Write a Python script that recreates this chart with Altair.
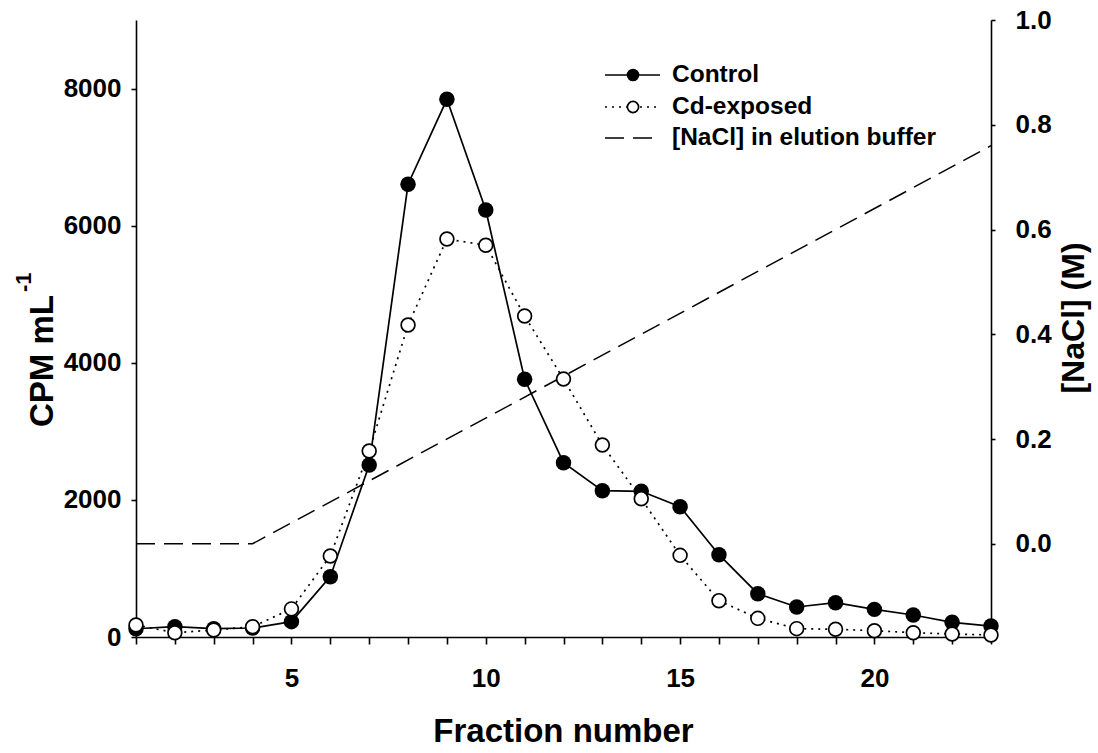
import altair as alt
import pandas as pd

# ---------------- data ----------------
fractions = list(range(1, 24))
control = [120, 150, 121, 131, 224, 880, 2509, 6604, 7843, 6229, 3759, 2543,
           2134, 2125, 1901, 1201, 632, 438, 501, 403, 321, 214, 160]
cd_exposed = [175, 63, 102, 150, 410, 1182, 2713, 4551, 5806, 5714, 4682, 3763,
              2801, 2018, 1191, 530, 272, 122, 112, 92, 63, 44, 29]
nacl_fraction = [1, 4, 23]
nacl_molar = [0.0, 0.0, 0.76]

left_ticks = [0, 2000, 4000, 6000, 8000]
right_ticks = [0.0, 0.2, 0.4, 0.6, 0.8, 1.0]
legend_labels = ["Control", "Cd-exposed", "[NaCl] in elution buffer"]

FONT = "Liberation Sans"
W, H = 855, 617
PAD = {"left": 136, "top": 20, "right": 1098 - 136 - W, "bottom": 753 - 20 - H}

df = pd.DataFrame({"fraction": fractions, "control": control, "cd": cd_exposed})
na = pd.DataFrame({"fraction": nacl_fraction, "nacl": nacl_molar})

xscale = alt.Scale(domain=[1, 23], nice=False, zero=False)
yscale = alt.Scale(domain=[0, 9000], nice=False)
rscale = alt.Scale(domain=[-0.178, 1.0], nice=False, zero=False)

common_axis = dict(labelFont=FONT, labelFontWeight="bold", labelFontSize=26,
                   labelColor="black", domainColor="black", domainWidth=1.6,
                   tickColor="black", tickWidth=1.6, grid=False, title=None,
                   labelFlush=False, labelOverlap=False)

x_axis = alt.Axis(values=fractions,
                  labelExpr="datum.value % 5 == 0 ? datum.label : ''",
                  tickSize=7, labelPadding=21, **common_axis)
y_axis = alt.Axis(values=left_ticks, format="d", tickSize=5, labelPadding=10,
                  orient="left", **common_axis)
r_axis = alt.Axis(values=right_ticks, format=".1f", tickSize=4, labelPadding=20,
                  orient="right", **common_axis)

X = alt.X("fraction:Q", scale=xscale, axis=x_axis)

nacl_line = alt.Chart(na).mark_line(color="black", strokeWidth=1.5,
                                    strokeDash=[19, 9]).encode(
    x=X, y=alt.Y("nacl:Q", scale=rscale, axis=r_axis))

base = alt.Chart(df)
ctrl_line = base.mark_line(color="black", strokeWidth=1.7).encode(
    x=X, y=alt.Y("control:Q", scale=yscale, axis=y_axis))
ctrl_pts = base.mark_circle(color="black", size=240, opacity=1).encode(
    x=X, y=alt.Y("control:Q", scale=yscale))
cd_line = base.mark_line(color="black", strokeWidth=1.7,
                         strokeDash=[2, 5]).encode(
    x=X, y=alt.Y("cd:Q", scale=yscale))
cd_pts = base.mark_circle(fill="white", stroke="black", strokeWidth=1.7,
                          size=190, opacity=1).encode(
    x=X, y=alt.Y("cd:Q", scale=yscale))

left_layers = alt.layer(ctrl_line, ctrl_pts, cd_line, cd_pts)

# ---------------- titles (text marks) ----------------
def txt(s, x, y, size, angle=0, align="center", baseline="alphabetic"):
    kw = dict(font=FONT, fontWeight="bold", fontSize=size, color="black",
              align=align, baseline=baseline)
    if angle:
        kw["angle"] = angle
    return alt.Chart(pd.DataFrame({"t": [s]})).mark_text(**kw).encode(
        x=alt.value(x), y=alt.value(y), text="t:N")

xtitle = txt("Fraction number", W / 2, 722, 33)
ytitle = txt("CPM mL", -83, 407, 33, angle=270, align="left")
ytitle_sup = txt("-1", -105, 272, 22, angle=270, align="left")
rtitle = txt("[NaCl] (M)", 948, 298, 32, angle=270, align="center")

# ---------------- legend ----------------
lx0, lx1, lxm, ltx = 469, 524, 497, 536
rows = [55, 87, 118]
one = pd.DataFrame({"a": [0]})
leg = [
    alt.Chart(one).mark_rule(color="black", strokeWidth=1.7).encode(
        x=alt.value(lx0), x2=alt.value(lx1), y=alt.value(rows[0])),
    alt.Chart(one).mark_circle(color="black", size=160, opacity=1).encode(
        x=alt.value(lxm), y=alt.value(rows[0])),
    alt.Chart(one).mark_rule(color="black", strokeWidth=1.7,
                             strokeDash=[2, 5]).encode(
        x=alt.value(lx0), x2=alt.value(lx1), y=alt.value(rows[1])),
    alt.Chart(one).mark_circle(fill="white", stroke="black", strokeWidth=1.7,
                               size=125, opacity=1).encode(
        x=alt.value(lxm), y=alt.value(rows[1])),
    alt.Chart(one).mark_rule(color="black", strokeWidth=1.5,
                             strokeDash=[19, 9]).encode(
        x=alt.value(lx0), x2=alt.value(lx1), y=alt.value(rows[2])),
]
for lab, ry in zip(legend_labels, rows):
    leg.append(txt(lab, ltx, ry, 24.5, align="left", baseline="middle"))

chart = alt.layer(nacl_line, left_layers, xtitle, ytitle, ytitle_sup, rtitle,
                  *leg).resolve_scale(y="independent").properties(
    width=W, height=H,
    autosize=alt.AutoSizeParams(type="none"),
    padding=PAD,
    background="white",
).configure_view(strokeWidth=0)

chart.save("out.html", embed_options={"renderer": "svg", "actions": False})
